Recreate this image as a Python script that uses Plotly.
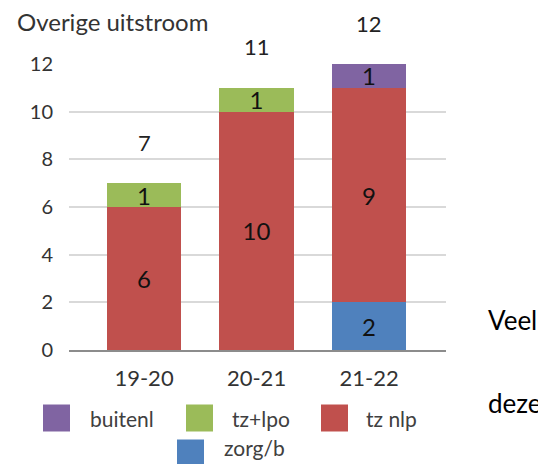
import plotly.graph_objects as go

# Data
seasons = ["19-20", "20-21", "21-22"]
zorg_b = [0, 0, 2]
tz_nlp = [6, 10, 9]
tz_lpo = [1, 1, 0]
buitenl = [0, 0, 1]

# stacking order bottom -> top
series = [
    ("zorg/b", zorg_b, "#4F81BD"),
    ("tz nlp", tz_nlp, "#C0504D"),
    ("tz+lpo", tz_lpo, "#9BBB59"),
    ("buitenl", buitenl, "#8064A2"),
]
totals = [sum(v) for v in zip(zorg_b, tz_nlp, tz_lpo, buitenl)]

FONT = "Lato, Carlito, sans-serif"
PAGE = 8  # the page body adds an 8px margin, so draw everything 8px up/left
W, H = 546 - PAGE, 464 - PAGE
L, T = 69 - PAGE, 64 - PAGE          # plot area top-left (figure px)
R, B = W - (446 - PAGE), H - (350 - PAGE)


def px_x(px):
    # reference-picture x -> paper x
    return (px - PAGE - L) / (W - L - R)


def px_y(py):
    # reference-picture y -> paper y
    return (H - B - (py - PAGE)) / (H - T - B)


fig = go.Figure()

for name, vals, color in series:
    fig.add_trace(go.Bar(
        x=seasons, y=vals, name=name,
        marker=dict(color=color, line=dict(width=0)),
        width=0.66,
        text=[str(v) if v else "" for v in vals],
        textposition="inside", insidetextanchor="middle",
        textangle=0, constraintext="none",
        textfont=dict(family=FONT, size=24, color="#111111"),
        showlegend=False,
    ))

# totals above the bars
for s, t in zip(seasons, totals):
    fig.add_annotation(x=s, y=t, text=str(t), showarrow=False,
                       yanchor="middle", yshift=41,
                       font=dict(family=FONT, size=22, color="#222222"))

# hand-placed legend (two rows, like the original)
legend_pos = [  # (name, square left px, square centre px, text left px, text centre px)
    ("buitenl", 43, 418, 88, 418),
    ("tz+lpo", 186, 418, 230, 418),
    ("tz nlp", 321, 418, 364, 418),
    ("zorg/b", 177, 453, 222, 447),
]
colors = {name: color for name, _, color in series}
for name, sx, sy, tx, ty in legend_pos:
    fig.add_shape(type="rect", xref="paper", yref="paper",
                  x0=px_x(sx), x1=px_x(sx + 27),
                  y0=px_y(sy + 13.5), y1=px_y(sy - 13.5),
                  fillcolor=colors[name], line=dict(width=0), layer="above")
    fig.add_annotation(xref="paper", yref="paper", x=px_x(tx), y=px_y(ty),
                       xanchor="left", yanchor="middle", text=name,
                       showarrow=False,
                       font=dict(family=FONT, size=21, color="#404040"))

# chart title
fig.add_annotation(xref="paper", yref="paper", x=px_x(15), y=px_y(22),
                   xanchor="left", yanchor="middle", text="Overige uitstroom",
                   showarrow=False, font=dict(family=FONT, size=24, color="#333333"))

# surrounding document text at the right
for word, cy in [("Veel", 320), ("deze", 403)]:
    fig.add_annotation(xref="paper", yref="paper", x=px_x(486), y=px_y(cy),
                       xanchor="left", yanchor="middle", text=word,
                       showarrow=False, font=dict(family=FONT, size=26, color="#000000"))

fig.update_layout(
    width=W, height=H,
    margin=dict(l=L, r=R, t=T, b=B),
    barmode="stack",
    plot_bgcolor="white", paper_bgcolor="white",
    font=dict(family=FONT, color="#404040"),
    xaxis=dict(range=[-0.667, 2.684], showgrid=False, ticks="",
               showline=True, linecolor="#8C8C8C", linewidth=2,
               tickfont=dict(size=22, color="#333333"), ticklabelstandoff=8),
    yaxis=dict(range=[0, 12], dtick=2, showgrid=True, gridcolor="#D9D9D9",
               gridwidth=2, zeroline=False, ticks="",
               tickfont=dict(size=20, color="#333333"), ticklabelstandoff=15),
)

fig.write_html("out.html")
